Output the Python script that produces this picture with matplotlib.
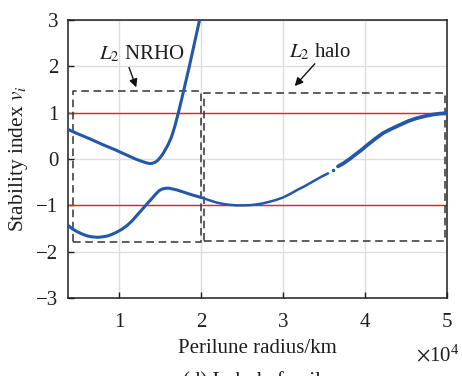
import matplotlib
matplotlib.use("Agg")
import matplotlib.pyplot as plt

plt.rcParams["font.family"] = ["Liberation Serif", "DejaVu Serif"]
plt.rcParams["mathtext.fontset"] = "stix"

# perilune radius in units of 1e4 km
nrho_upper_x = [0.375, 0.5, 0.65, 0.8, 0.95, 1.1, 1.2, 1.26, 1.31, 1.35, 1.38, 1.41, 1.44,
                1.47, 1.5, 1.53, 1.56, 1.6, 1.64, 1.68, 1.72, 1.76, 1.8, 1.85, 1.9, 1.95, 2.0]
nrho_upper_y = [0.64, 0.54, 0.43, 0.31, 0.20, 0.08, 0.0, -0.04, -0.07, -0.09, -0.10, -0.09, -0.07,
                -0.03, 0.03, 0.10, 0.19, 0.32, 0.48, 0.71, 0.98, 1.27, 1.57, 1.95, 2.35, 2.75, 3.15]

nrho_lower_x = [0.375, 0.43, 0.49, 0.55, 0.61, 0.67, 0.735, 0.80, 0.86, 0.92, 0.98, 1.04,
                1.10, 1.16, 1.22, 1.28, 1.345, 1.40, 1.45, 1.49, 1.53, 1.57, 1.61, 1.66,
                1.71, 1.77, 1.83, 1.91, 2.0]
nrho_lower_y = [-1.43, -1.51, -1.57, -1.62, -1.66, -1.68, -1.69, -1.68, -1.66, -1.62, -1.57, -1.51,
                -1.43, -1.33, -1.21, -1.09, -0.96, -0.85, -0.75, -0.68, -0.645, -0.63, -0.63, -0.65,
                -0.67, -0.705, -0.74, -0.785, -0.83]

halo_a_x = [2.0, 2.1, 2.19, 2.27, 2.35, 2.43, 2.52, 2.6, 2.68, 2.76, 2.84, 2.92, 3.0,
            3.08, 3.17, 3.25, 3.33, 3.41, 3.48, 3.55]
halo_a_y = [-0.83, -0.89, -0.94, -0.97, -0.99, -1.0, -1.0, -0.995, -0.98, -0.955, -0.92, -0.88, -0.83,
            -0.76, -0.67, -0.60, -0.52, -0.44, -0.37, -0.31]
halo_dot = (3.61, -0.235)
halo_b_x = [3.67, 3.74, 3.82, 3.90, 3.96, 4.02, 4.12, 4.22, 4.32, 4.43, 4.53, 4.63, 4.73,
            4.83, 4.92, 5.0]
halo_b_y = [-0.16, -0.09, 0.01, 0.12, 0.20, 0.29, 0.43, 0.56, 0.65, 0.74, 0.82, 0.88, 0.925,
            0.96, 0.98, 0.99]

# dashed regions: (x0, x1, y0, y1)
nrho_box = (0.443, 1.996, -1.80, 1.47)
halo_box = (2.03, 4.97, -1.77, 1.42)

xticks = [1, 2, 3, 4, 5]
yticks = [-3, -2, -1, 0, 1, 2, 3]
blue = "#2358A8"
ink = "#1e1e1e"

fig = plt.figure(figsize=(4.62, 3.76), dpi=100)
ax = fig.add_axes([0.147, 0.2074, 0.8205, 0.7394])

ax.set_xlim(0.375, 5.0)
ax.set_ylim(-3, 3)
ax.set_xticks(xticks)
ax.set_yticks(yticks)
ax.grid(True, color="#dedede", lw=1.0, zorder=0)
ax.set_axisbelow(True)
ax.tick_params(direction="in", length=4, width=1, labelsize=15, colors=ink)
ax.tick_params(axis="x", pad=11)
ax.tick_params(axis="y", pad=7)
for s in ax.spines.values():
    s.set_color(ink)
    s.set_linewidth(1.1)

# stability boundaries
for lvl in (1, -1):
    ax.axhline(lvl, color="#ff1a1a", lw=1.0, zorder=2)

def draw_box(b):
    x0, x1, y0, y1 = b
    ax.plot([x0, x1, x1, x0, x0], [y0, y0, y1, y1, y0], color="#333333",
            lw=1.1, dashes=(5, 3), zorder=3)

draw_box(nrho_box)
draw_box(halo_box)

ax.plot(nrho_upper_x, nrho_upper_y, color=blue, lw=2.2, zorder=4, solid_capstyle="round")
ax.plot(nrho_lower_x, nrho_lower_y, color=blue, lw=2.2, zorder=4, solid_capstyle="round")
ax.plot(halo_a_x, halo_a_y, color=blue, lw=1.8, zorder=4, solid_capstyle="round")
ax.plot([halo_dot[0]], [halo_dot[1]], "o", color=blue, ms=1.5, zorder=4)
ax.plot(halo_b_x, halo_b_y, color=blue, lw=2.7, zorder=4, solid_capstyle="round")

# family labels
ax.text(1.27, 2.27, r"$L_2$ NRHO", fontsize=15, ha="center", va="center", color=ink)
ax.annotate("", xy=(1.22, 1.49), xytext=(1.11, 2.03),
            arrowprops=dict(arrowstyle="-|>", color="#111111", lw=1.0, mutation_scale=12))
ax.text(3.45, 2.31, r"$L_2$ halo", fontsize=15, ha="center", va="center", color=ink)
ax.annotate("", xy=(3.12, 1.53), xytext=(3.41, 2.10),
            arrowprops=dict(arrowstyle="-|>", color="#111111", lw=1.0, mutation_scale=12))

ax.set_xlabel("Perilune radius/km", fontsize=15, labelpad=5, color=ink)
ax.set_ylabel(r"Stability index $v_i$", fontsize=15.5, labelpad=4, color=ink)
fig.text(0.995, 0.038, r"$\times\mathregular{10^4}$", fontsize=15, ha="right",
         va="baseline", color=ink)
# sub-figure caption sits at the lower edge of the panel
fig.text(0.557, -0.026, "(d) Lobule family", fontsize=15, ha="center",
         va="baseline", color=ink)

fig.savefig("out.png", dpi=100)
